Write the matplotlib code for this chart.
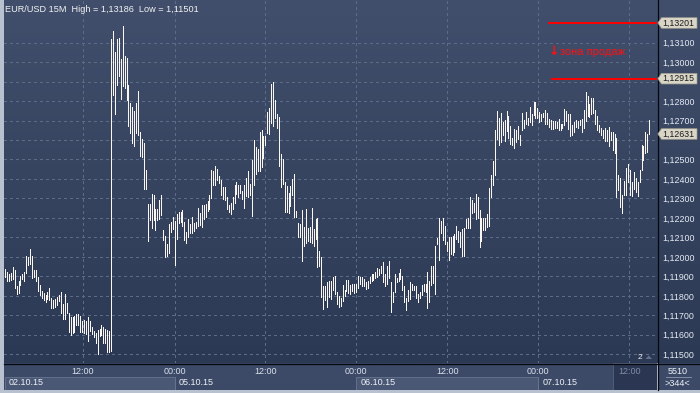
import numpy as np
import matplotlib
matplotlib.use("Agg")
import matplotlib.pyplot as plt
from matplotlib.patches import Polygon, Rectangle
from matplotlib.lines import Line2D
import matplotlib.transforms as mtransforms

plt.rcParams['font.family'] = ['Liberation Sans', 'DejaVu Sans']
plt.rcParams['lines.scale_dashes'] = False

# ---------------- data (EUR/USD 15M bars: high / low) ----------------
highs_1 = [1.11940, 1.11923, 1.11913, 1.11916, 1.11947, 1.11933, 1.11848, 1.11878, 1.11902, 1.11913,
           1.11920, 1.12005, 1.11998, 1.12039, 1.12002, 1.11930, 1.11933, 1.11895, 1.11854, 1.11827,
           1.11813, 1.11803, 1.11820, 1.11841, 1.11789, 1.11776, 1.11786, 1.11796, 1.11806, 1.11820,
           1.11759, 1.11810, 1.11765, 1.11711, 1.11693, 1.11693, 1.11697, 1.11707, 1.11707, 1.11697,
           1.11673, 1.11676, 1.11673, 1.11693, 1.11669, 1.11642, 1.11621, 1.11608, 1.11625, 1.11628,
           1.11652, 1.11642, 1.11628, 1.11625, 1.11618, 1.13118, 1.13159, 1.13053, 1.13118, 1.13125,
           1.13015, 1.13186, 1.13032, 1.13022, 1.12882, 1.12789, 1.12769, 1.12751, 1.12789, 1.12851,
           1.12642, 1.12604, 1.12584, 1.12447, 1.12272, 1.12272, 1.12323, 1.12320, 1.12248, 1.12245,
           1.12293, 1.12320, 1.12139, 1.12108, 1.12067]
lows_1 = [1.11895, 1.11875, 1.11878, 1.11880, 1.11885, 1.11841, 1.11810, 1.11817, 1.11854, 1.11885,
          1.11878, 1.11916, 1.11957, 1.11964, 1.11892, 1.11895, 1.11875, 1.11824, 1.11803, 1.11789,
          1.11779, 1.11769, 1.11786, 1.11776, 1.11735, 1.11735, 1.11745, 1.11752, 1.11772, 1.11711,
          1.11680, 1.11680, 1.11711, 1.11615, 1.11598, 1.11608, 1.11615, 1.11652, 1.11649, 1.11615,
          1.11615, 1.11608, 1.11604, 1.11570, 1.11621, 1.11604, 1.11587, 1.11556, 1.11501, 1.11594,
          1.11601, 1.11560, 1.11556, 1.11512, 1.11509, 1.11515, 1.12830, 1.12734, 1.12885, 1.12930,
          1.12810, 1.12875, 1.12868, 1.12806, 1.12673, 1.12635, 1.12584, 1.12570, 1.12635, 1.12628,
          1.12519, 1.12515, 1.12351, 1.12351, 1.12080, 1.12190, 1.12149, 1.12187, 1.12139, 1.12190,
          1.12193, 1.12217, 1.12087, 1.11998, 1.12005]

highs_2 = [1.12169, 1.12179, 1.12203, 1.12186, 1.12220, 1.12230, 1.12230, 1.12240, 1.12179, 1.12128,
           1.12192, 1.12169, 1.12206, 1.12175, 1.12179, 1.12251, 1.12223, 1.12268, 1.12264, 1.12271,
           1.12285, 1.12316, 1.12445, 1.12442, 1.12469, 1.12452, 1.12415, 1.12394, 1.12360, 1.12357,
           1.12309, 1.12268, 1.12278, 1.12309, 1.12367, 1.12387, 1.12370, 1.12367, 1.12339, 1.12367,
           1.12404, 1.12442, 1.12374, 1.12497, 1.12599, 1.12562, 1.12555, 1.12640, 1.12650, 1.12620,
           1.12620, 1.12743, 1.12763, 1.12886, 1.12897, 1.12808, 1.12733, 1.12719, 1.12527, 1.12504,
           1.12384, 1.12363, 1.12329, 1.12363, 1.12401, 1.12428, 1.12237, 1.12175, 1.12169, 1.12240,
           1.12155, 1.12244, 1.12148, 1.12151, 1.12251, 1.12145, 1.12192, 1.12199, 1.12028, 1.11998,
           1.11851, 1.11851, 1.11871, 1.11875, 1.11875]
lows_2 = [1.12022, 1.12128, 1.12145, 1.11960, 1.12093, 1.12172, 1.12179, 1.12158, 1.12087, 1.12069,
          1.12100, 1.12124, 1.12124, 1.12131, 1.12148, 1.12158, 1.12162, 1.12155, 1.12196, 1.12206,
          1.12233, 1.12244, 1.12302, 1.12370, 1.12370, 1.12394, 1.12380, 1.12316, 1.12298, 1.12292,
          1.12247, 1.12230, 1.12220, 1.12247, 1.12278, 1.12322, 1.12305, 1.12326, 1.12298, 1.12251,
          1.12312, 1.12309, 1.12316, 1.12210, 1.12370, 1.12425, 1.12442, 1.12442, 1.12459, 1.12510,
          1.12572, 1.12637, 1.12633, 1.12685, 1.12671, 1.12712, 1.12664, 1.12466, 1.12360, 1.12374,
          1.12230, 1.12230, 1.12223, 1.12261, 1.12316, 1.12203, 1.12203, 1.12100, 1.12100, 1.11981,
          1.12056, 1.12069, 1.12083, 1.12076, 1.12069, 1.12056, 1.12093, 1.11946, 1.11953, 1.11796,
          1.11731, 1.11776, 1.11741, 1.11796, 1.11786]

highs_3 = [1.11897, 1.11903, 1.11822, 1.11801, 1.11791, 1.11856, 1.11832, 1.11883, 1.11883, 1.11856,
           1.11863, 1.11863, 1.11859, 1.11903, 1.11897, 1.11897, 1.11886, 1.11869, 1.11876, 1.11897,
           1.11914, 1.11910, 1.11924, 1.11941, 1.11938, 1.11955, 1.11975, 1.11914, 1.11955, 1.11978,
           1.11869, 1.11822, 1.11914, 1.11893, 1.11917, 1.11938, 1.11900, 1.11849, 1.11788, 1.11832,
           1.11869, 1.11863, 1.11849, 1.11852, 1.11808, 1.11822, 1.11856, 1.11863, 1.11863, 1.11924,
           1.11876, 1.11955, 1.11955, 1.12057, 1.12098, 1.12200, 1.12186, 1.12200, 1.12156, 1.12077,
           1.12101, 1.12101, 1.12105, 1.12118, 1.12159, 1.12132, 1.12128, 1.12142, 1.12149, 1.12197,
           1.12200, 1.12309, 1.12292, 1.12278, 1.12323, 1.12309, 1.12241, 1.12200, 1.12200, 1.12200,
           1.12220, 1.12353, 1.12422, 1.12493, 1.12650, 1.12749]
lows_3 = [1.11832, 1.11811, 1.11757, 1.11743, 1.11750, 1.11774, 1.11798, 1.11825, 1.11815, 1.11811,
          1.11825, 1.11815, 1.11818, 1.11839, 1.11859, 1.11852, 1.11849, 1.11835, 1.11839, 1.11866,
          1.11876, 1.11883, 1.11890, 1.11897, 1.11907, 1.11917, 1.11869, 1.11849, 1.11859, 1.11893,
          1.11716, 1.11767, 1.11818, 1.11873, 1.11876, 1.11886, 1.11832, 1.11770, 1.11726, 1.11774,
          1.11784, 1.11832, 1.11829, 1.11791, 1.11767, 1.11791, 1.11805, 1.11825, 1.11822, 1.11736,
          1.11767, 1.11856, 1.11866, 1.11811, 1.12064, 1.11982, 1.12125, 1.12088, 1.12064, 1.12030,
          1.11985, 1.12016, 1.12009, 1.12026, 1.12091, 1.12074, 1.12053, 1.12006, 1.12002, 1.12149,
          1.12149, 1.12149, 1.12227, 1.12231, 1.12197, 1.12200, 1.12053, 1.12081, 1.12139, 1.12139,
          1.12152, 1.12156, 1.12309, 1.12367, 1.12422, 1.12606]

highs_4 = [1.12711, 1.12739, 1.12691, 1.12701, 1.12749, 1.12722, 1.12674, 1.12608, 1.12656, 1.12653,
           1.12670, 1.12626, 1.12739, 1.12704, 1.12746, 1.12715, 1.12770, 1.12732, 1.12797, 1.12797,
           1.12766, 1.12746, 1.12735, 1.12739, 1.12752, 1.12739, 1.12708, 1.12701, 1.12698, 1.12698,
           1.12695, 1.12708, 1.12684, 1.12680, 1.12759, 1.12749, 1.12732, 1.12732, 1.12677, 1.12691,
           1.12704, 1.12698, 1.12704, 1.12708, 1.12752, 1.12849, 1.12825, 1.12787, 1.12818, 1.12814,
           1.12752, 1.12725, 1.12677, 1.12663, 1.12650, 1.12663, 1.12653, 1.12667, 1.12639, 1.12643,
           1.12632, 1.12608, 1.12420, 1.12406, 1.12317, 1.12392, 1.12454, 1.12475, 1.12447, 1.12382,
           1.12437, 1.12403, 1.12382, 1.12444, 1.12574, 1.12571, 1.12643, 1.12629, 1.12704]
lows_4 = [1.12574, 1.12591, 1.12626, 1.12595, 1.12646, 1.12608, 1.12581, 1.12574, 1.12560, 1.12591,
          1.12605, 1.12574, 1.12653, 1.12660, 1.12680, 1.12677, 1.12694, 1.12677, 1.12728, 1.12711,
          1.12711, 1.12691, 1.12698, 1.12718, 1.12684, 1.12680, 1.12667, 1.12656, 1.12656, 1.12663,
          1.12660, 1.12653, 1.12650, 1.12663, 1.12677, 1.12698, 1.12656, 1.12622, 1.12626, 1.12643,
          1.12667, 1.12660, 1.12677, 1.12643, 1.12663, 1.12698, 1.12722, 1.12718, 1.12735, 1.12739,
          1.12680, 1.12650, 1.12639, 1.12626, 1.12608, 1.12595, 1.12595, 1.12567, 1.12598, 1.12547,
          1.12533, 1.12307, 1.12344, 1.12258, 1.12224, 1.12317, 1.12320, 1.12386, 1.12320, 1.12313,
          1.12348, 1.12334, 1.12313, 1.12386, 1.12444, 1.12495, 1.12533, 1.12536, 1.12629]

price_ticks = [1.115, 1.116, 1.117, 1.118, 1.119, 1.120, 1.121, 1.122, 1.123,
               1.124, 1.125, 1.126, 1.127, 1.128, 1.129, 1.130, 1.131]
hidden_ticks = [1.126, 1.129]          # covered by price markers in the reference
time_tick_pos = [40.4, 88.1, 134.9, 182.1, 229.3, 276.5, 323.6]
time_tick_labels = ["12:00", "00:00", "12:00", "00:00", "12:00", "00:00", "12:00"]
date_labels = ["02.10.15", "05.10.15", "06.10.15", "07.10.15"]
date_starts = [0.0, 88.1, 182.1, 276.5]
date_ends = [88.1, 182.1, 276.5, 315.2]
date_shaded = [True, False, True, False]

title = "EUR/USD 15M  High = 1,13186  Low = 1,11501"
sell_upper = 1.13201
sell_lower = 1.12915
sell_start = [281.5, 282.9]
last_price = 1.12631
zone_text = "зона продаж"

highs = np.array(highs_1 + highs_2 + highs_3 + highs_4)
lows = np.array(lows_1 + lows_2 + lows_3 + lows_4)
xs = np.arange(len(highs))

# ---------------- figure / layout (pixel based) ----------------
W, H = 700, 393
fig = plt.figure(figsize=(W / 100, H / 100), dpi=100)
fig.patch.set_facecolor('#b7c1cf')

def fx(px):
    return px / W

def fy(py):
    return 1 - py / H

XLIM = (-0.52, 338.0)
YLIM = (1.11455, 1.13319)

# gradient background for plot + price scale
bg = fig.add_axes([fx(4), fy(363), fx(696), 363 / H])
bg.set_axis_off()
top = np.array([0x41, 0x4f, 0x6c]) / 255
bot = np.array([0x2c, 0x39, 0x54]) / 255
t = np.linspace(0, 1, 256)[:, None]
grad = (top[None, :] * (1 - t) + bot[None, :] * t)[:, None, :]
bg.imshow(grad, aspect='auto', extent=[0, 1, 0, 1], origin='upper')
bg.set_xlim(0, 1)
bg.set_ylim(0, 1)

ax = fig.add_axes([fx(4), fy(363), fx(653), 363 / H])
ax.set_facecolor('none')
ax.set_xlim(*XLIM)
ax.set_ylim(*YLIM)
for s in ax.spines.values():
    s.set_visible(False)

ax.set_yticks(price_ticks)
ax.set_yticklabels(["" if any(abs(v - h) < 1e-9 for h in hidden_ticks)
                    else f"{v:.5f}".replace('.', ',') for v in price_ticks])
ax.yaxis.tick_right()
ax.tick_params(axis='y', length=0, pad=3.6, labelsize=6.4, labelcolor='#e6ecf4')
ax.set_xticks(time_tick_pos)
ax.tick_params(axis='x', length=0, labelbottom=False)
ax.grid(True, color='#5c6b88', linewidth=0.75, linestyle=(0, (1.5, 2.2)), antialiased=False)
ax.set_axisbelow(True)

# bars (1 px wide)
ax.vlines(xs, lows, highs, colors='#fcf6f0', linewidth=0.5, antialiased=False, zorder=3)

# sell-zone lines and text
ax.plot([sell_start[0], XLIM[1]], [sell_upper, sell_upper], color='#ff0000', lw=1.4, zorder=4,
        solid_capstyle='butt')
ax.plot([sell_start[1], XLIM[1]], [sell_lower, sell_lower], color='#ff0000', lw=1.4, zorder=4,
        solid_capstyle='butt')
ax.text(sell_start[0] + 0.2, 1.13054, "↓", color='#ff1010', fontsize=9, fontweight='bold',
        family=['DejaVu Sans'], va='center', ha='left', zorder=5)
ax.text(sell_start[0] + 6.3, 1.13054, zone_text, color='#ff1010', fontsize=8,
        va='center', ha='left', zorder=5)

# title
fig.text(fx(5), fy(9), title, color='#f2f2f2', fontsize=6.6, va='center', ha='left')

# ---------------- bottom time strip ----------------
strip = fig.add_axes([fx(4), fy(390), fx(653), 27 / H])
strip.set_facecolor('#3d4a67')
strip.set_xlim(*XLIM)
strip.set_ylim(27, 0)
strip.set_xticks([])
strip.set_yticks([])
for s in strip.spines.values():
    s.set_visible(False)
for x0, x1, lab, sh in zip(date_starts, date_ends, date_labels, date_shaded):
    if sh:
        strip.add_patch(Rectangle((x0, 14), x1 - x0, 13.5, facecolor='#4a5876',
                                  edgecolor='#66748f', lw=0.6))
    else:
        strip.plot([x0, x0], [14, 27], color='#66748f', lw=0.6)
    strip.text(x0 + 2.0, 19.6, lab, color='#eef2f7', fontsize=6.5, va='center', ha='left')
strip.add_patch(Rectangle((date_ends[-1], 0), XLIM[1] - date_ends[-1], 27.5,
                          facecolor='#2b3752', edgecolor='#56627c', lw=0.6, zorder=2))
for pos, lab in zip(time_tick_pos, time_tick_labels):
    col = '#7e8ba2' if pos > date_ends[-1] else '#d7e0ec'
    strip.text(pos, 8.9, lab, color=col, fontsize=6.5, va='center', ha='center', zorder=3)

# right-bottom corner panel
corner = fig.add_axes([fx(658), fy(390), fx(42), 27 / H])
corner.set_facecolor('#3d4a67')
corner.set_xlim(658, 700)
corner.set_ylim(390, 363)
corner.set_xticks([])
corner.set_yticks([])
for s in corner.spines.values():
    s.set_visible(False)
corner.text(677.5, 371.5, "5510", color='#eef2f7', fontsize=6.5, ha='center', va='center')
corner.plot([666, 691], [376.8, 376.8], color='#8d99ae', lw=0.6)
corner.text(677.5, 383.2, ">344<", color='#eef2f7', fontsize=6.5, ha='center', va='center')

# black separator lines (display pixel coords)
ident = mtransforms.IdentityTransform()
fig.add_artist(Line2D([657.5, 657.5], [H - 390, H], color='#05080e', lw=0.9, transform=ident))
fig.add_artist(Line2D([4, W], [H - 363.5, H - 363.5], color='#05080e', lw=0.9, transform=ident))

# price marker boxes on the price scale
fig.canvas.draw()
for p in [sell_upper, sell_lower, last_price]:
    yc = ax.transData.transform((0, p))[1]
    poly = Polygon([(657.8, yc), (661.5, yc + 5.3), (697, yc + 5.3), (697, yc - 5.3),
                    (661.5, yc - 5.3)], closed=True, facecolor='#d9d6c7', edgecolor='#9c9a8e',
                   lw=0.5, transform=ident, zorder=10)
    fig.add_artist(poly)
    fig.text(662.3, yc, f"{p:.5f}".replace('.', ','), color='#1a1a1a', fontsize=6.3,
             va='center', ha='left', transform=ident, zorder=11)

# small marker "2" at bottom right of plot
fig.text(fx(640), fy(357.5), "2", color='#f0f0f0', fontsize=6, ha='center', va='center')
fig.add_artist(Polygon([(645.5, H - 359), (652, H - 359), (648.7, H - 355.5)], closed=True,
                       facecolor='#66718a', edgecolor='none', transform=ident))

fig.savefig("out.png", dpi=100, facecolor=fig.get_facecolor())
